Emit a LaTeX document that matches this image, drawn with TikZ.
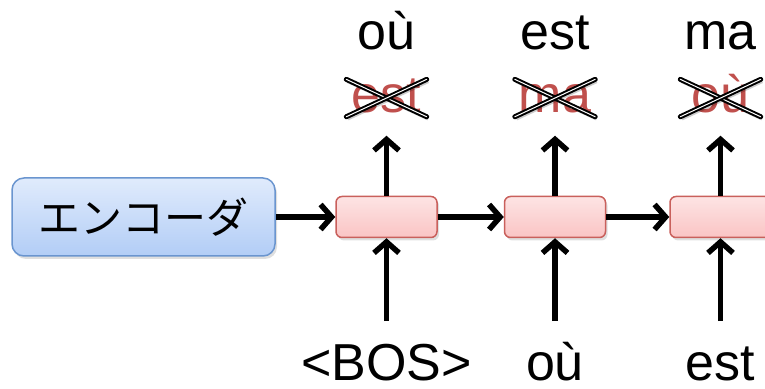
\documentclass[tikz,border=0pt]{standalone}
\usepackage{fontspec}
\setmainfont{Liberation Sans}
\newfontfamily\jpfont{Noto Sans CJK JP}
\usetikzlibrary{arrows.meta,positioning,shadows}
\definecolor{encedge}{HTML}{6A95CF}
\definecolor{enctop}{HTML}{E0EBFC}
\definecolor{encbottom}{HTML}{B2CDF6}
\definecolor{celledge}{HTML}{C9605C}
\definecolor{celltop}{HTML}{FDE4E4}
\definecolor{cellbottom}{HTML}{FAC4C4}
\definecolor{wrongred}{HTML}{C0504D}
\tikzset{
  encoderbox/.style={
    rectangle,
    rounded corners=12pt,
    draw=encedge,
    line width=1.5pt,
    top color=enctop,
    bottom color=encbottom,
    minimum width=263pt,
    minimum height=78pt,
    font=\jpfont\fontsize{42}{42}\selectfont,
    drop shadow={opacity=0.25, shadow xshift=2pt, shadow yshift=-3pt}
  },
  cellbox/.style={
    rectangle,
    rounded corners=6pt,
    draw=celledge,
    line width=1.5pt,
    top color=celltop,
    bottom color=cellbottom,
    minimum width=101pt,
    minimum height=41pt,
    drop shadow={opacity=0.25, shadow xshift=2pt, shadow yshift=-3pt}
  },
  wordlabel/.style={
    font=\fontsize{52}{52}\selectfont,
    inner sep=0pt,
    text height=38pt,
    text depth=0pt
  },
  wronglabel/.style={wordlabel, text=wrongred, text height=33pt, text depth=4pt, minimum width=80pt},
  crossline/.style={
    line width=2pt,
    line cap=round,
    double=white,
    double distance=1pt,
    preaction={draw=black, opacity=0.2, line width=3.5pt,
      transform canvas={shift={(1.5pt,-2pt)}}}
  },
  rnnarrow/.style={-{Straight Barb[length=11pt,width=25pt]}, line width=5.5pt}
}
\begin{document}
\begin{tikzpicture}[x=1pt,y=1pt]
\useasboundingbox (0,0) rectangle (765,388);
% encoder and decoder cells
\node[encoderbox] (enc) at (143.5,171) {エンコーダ};
\node[cellbox] (c1) at (386.5,171) {};
\node[cellbox, right=66pt of c1] (c2) {};
\node[cellbox, right=63pt of c2] (c3) {};
% wrong outputs, crossed out
\node[wronglabel, above=79pt of c1] (w1) {est};
\node[wronglabel, above=79pt of c2] (w2) {ma};
\node[wronglabel, above=79pt of c3] (w3) {où};
% correct outputs
\node[wordlabel, above=30pt of w1] (t1) {où};
\node[wordlabel, above=30pt of w2] (t2) {est};
\node[wordlabel, above=30pt of w3] (t3) {ma};
% inputs
\node[wordlabel, below=104pt of c1] (b1) {<BOS>};
\node[wordlabel, below=104pt of c2] (b2) {où};
\node[wordlabel, below=104pt of c3] (b3) {est};
\draw[rnnarrow] (enc) -- (c1);
\draw[rnnarrow] (c1) -- (c2);
\draw[rnnarrow] (c2) -- (c3);
\draw[rnnarrow, shorten >=19pt] (c1) -- (w1);
\draw[rnnarrow, shorten >=19pt] (c2) -- (w2);
\draw[rnnarrow, shorten >=19pt] (c3) -- (w3);
\draw[rnnarrow, shorten <=21pt] (b1) -- (c1);
\draw[rnnarrow, shorten <=21pt] (b2) -- (c2);
\draw[rnnarrow, shorten <=21pt] (b3) -- (c3);
\draw[crossline] (w1.north west) -- (w1.south east);
\draw[crossline] (w1.south west) -- (w1.north east);
\draw[crossline] (w2.north west) -- (w2.south east);
\draw[crossline] (w2.south west) -- (w2.north east);
\draw[crossline] (w3.north west) -- (w3.south east);
\draw[crossline] (w3.south west) -- (w3.north east);
\end{tikzpicture}
\end{document}
